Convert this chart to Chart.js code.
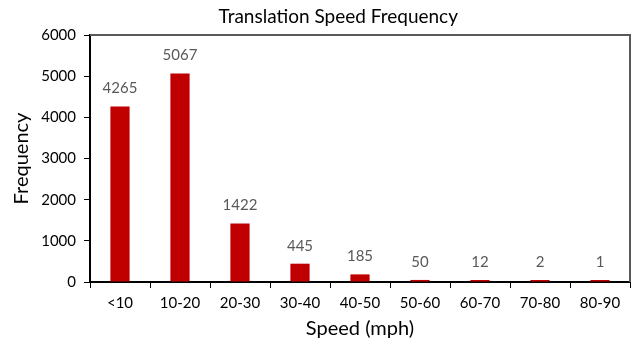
<!DOCTYPE html>
<html>
<head>
<meta charset="utf-8">
<script src="https://cdn.jsdelivr.net/npm/chart.js@4"></script>
<style>
  html, body { margin: 0; padding: 0; background: #fff; }
  #wrap { width: 633px; height: 345px; }
</style>
</head>
<body>
<div id="wrap"><canvas id="speedChart" width="633" height="345"></canvas></div>
<script>
const speedBins = ["<10", "10-20", "20-30", "30-40", "40-50", "50-60", "60-70", "70-80", "80-90"];
const frequency = [4265, 5067, 1422, 445, 185, 50, 12, 2, 1];
const yTicks = [0, 1000, 2000, 3000, 4000, 5000, 6000];
const chartTitle = "Translation Speed Frequency";

const FONT = "Lato, 'Open Sans', sans-serif";

// value labels above each bar
const barLabels = {
  id: "barLabels",
  afterDatasetsDraw(chart) {
    const ctx = chart.ctx;
    const meta = chart.getDatasetMeta(0);
    ctx.save();
    ctx.font = "15px " + FONT;
    ctx.fillStyle = "#595959";
    ctx.textAlign = "center";
    ctx.textBaseline = "alphabetic";
    meta.data.forEach((bar, i) => {
      ctx.fillText(String(frequency[i]), bar.x, bar.y - 13);
    });
    ctx.restore();
  }
};

// frame on the top and right side of the plot area, plus the title
const plotFrame = {
  id: "plotFrame",
  afterDraw(chart) {
    const { ctx, chartArea: a } = chart;
    ctx.save();
    ctx.strokeStyle = "#595959";
    ctx.lineWidth = 2;
    ctx.beginPath();
    ctx.moveTo(a.left, a.top);
    ctx.lineTo(a.right, a.top);
    ctx.lineTo(a.right, a.bottom);
    ctx.stroke();

    // title sits a little right of the canvas centre
    ctx.font = "19px " + FONT;
    ctx.fillStyle = "#000";
    ctx.textAlign = "center";
    ctx.textBaseline = "middle";
    ctx.fillText(chartTitle, (chart.width / 2 + (a.left + a.right) / 2) / 2, 17);
    ctx.restore();
  }
};

new Chart(document.getElementById("speedChart"), {
  type: "bar",
  data: {
    labels: speedBins,
    datasets: [{
      data: frequency,
      backgroundColor: "#c00000",
      barPercentage: 0.32,
      categoryPercentage: 1.0,
      minBarLength: 2
    }]
  },
  options: {
    responsive: false,
    animation: false,
    layout: { padding: { left: 0, right: 3, top: 35, bottom: 0 } },
    plugins: {
      legend: { display: false },
      tooltip: { enabled: false },
      title: { display: false }
    },
    scales: {
      x: {
        offset: true,
        grid: {
          offset: true,
          drawOnChartArea: false,
          drawTicks: true,
          tickLength: 6,
          color: "#000"
        },
        border: { color: "#000", width: 2 },
        ticks: {
          color: "#000",
          padding: 6,
          font: { family: FONT, size: 15 }
        },
        title: {
          display: true,
          text: "Speed (mph)",
          color: "#000",
          font: { family: FONT, size: 20 },
          padding: { top: 2, bottom: 4 }
        },
        afterFit(scale) { scale.height = 63; }
      },
      y: {
        min: 0,
        max: 6000,
        afterBuildTicks(scale) { scale.ticks = yTicks.map(v => ({ value: v })); },
        grid: {
          drawOnChartArea: false,
          drawTicks: true,
          tickLength: 6,
          color: "#000"
        },
        border: { color: "#000", width: 2 },
        ticks: {
          color: "#000",
          padding: 8,
          font: { family: FONT, size: 15 },
          callback: (v) => String(v)
        },
        title: {
          display: true,
          text: "Frequency",
          color: "#000",
          font: { family: FONT, size: 20 },
          padding: { top: 10, bottom: 4 }
        },
        afterFit(scale) { scale.width = 90; }
      }
    }
  },
  plugins: [barLabels, plotFrame]
});
</script>
</body>
</html>
